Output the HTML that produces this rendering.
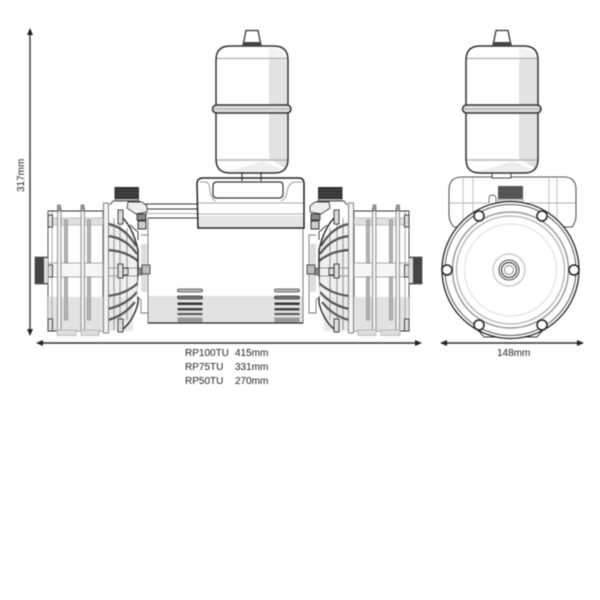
<!DOCTYPE html>
<html>
<head>
<meta charset="utf-8">
<style>
html,body{margin:0;padding:0;background:#fff;width:600px;height:600px;overflow:hidden}
svg{display:block;filter:blur(.4px)}
text{font-family:"Liberation Sans",sans-serif;font-size:10px;fill:#222}
</style>
</head>
<body>
<svg width="600" height="600" viewBox="0 0 600 600" xmlns="http://www.w3.org/2000/svg">
<defs>
<g id="tank">
  <path d="M216 60Q216 46 230 46H274Q288 46 288 60V159Q288 173 274 173H230Q216 173 216 159Z" fill="#fff"/>
  <path d="M269 60H288V159Q288 165 284 168L269 158Z" fill="#e2e2e2"/>
  <path d="M269 48Q282 48 288 60H269Z" fill="#f2f2f2"/>
  <path d="M222 171Q240 170 262 161L280 168Q278 173 270 173H232Z" fill="#eeeeee"/>
  <path d="M216 58.500H288M216 160H288" stroke="#aaa" stroke-width="1.200" fill="none"/>
  <path d="M216 60Q216 46 230 46H274Q288 46 288 60V159Q288 173 274 173H230Q216 173 216 159Z" fill="none" stroke="#333" stroke-width="1.500"/>
  <rect x="212.500" y="105" width="78.500" height="8" rx="4" fill="#ddd" stroke="#333" stroke-width="1.500"/>
  <path d="M214 109H290" stroke="#aaa" stroke-width="1"/>
  <path d="M246 30.500H258L260.500 43H243.500Z" fill="#fff" stroke="#333" stroke-width="1.300"/>
  <path d="M243 42H261L262 46H242Z" fill="#444"/>
</g>
<g id="pump">
  <rect x="48" y="211" width="55" height="120" fill="#fff" stroke="#555" stroke-width="1"/>
  <rect x="48" y="297" width="55" height="34" fill="#e2e2e2"/>
  <rect x="48" y="218" width="55" height="7" fill="#e0e0e0" stroke="#aaa" stroke-width=".7"/>
  <rect x="48" y="263" width="55" height="14" fill="#f6f6f6" stroke="#999" stroke-width=".8"/>
  <path d="M52 211V331" stroke="#aaa" stroke-width="1" fill="none"/>
  <path d="M48 211H103M48 331H58" stroke="#333" stroke-width="1" fill="none"/>
  <g fill="#b8b8b8" stroke="#777" stroke-width=".6">
    <rect x="64.500" y="220" width="3" height="43"/>
    <rect x="64.500" y="277" width="3" height="43"/>
    <rect x="87.500" y="220" width="3" height="43"/>
    <rect x="87.500" y="277" width="3" height="43"/>
  </g>
  <g fill="#f2f2f2" stroke="#777" stroke-width=".8">
    <rect x="57.500" y="208" width="3.500" height="122"/>
    <rect x="81" y="208" width="3.500" height="122"/>
    <rect x="57.500" y="205" width="3" height="6" fill="#999"/>
    <rect x="81" y="205" width="3" height="6" fill="#999"/>
  </g>
  <rect x="57" y="330" width="19" height="5.500" fill="#ddd" stroke="#aaa" stroke-width=".7"/>
  <rect x="81" y="330" width="18" height="5.500" fill="#ddd" stroke="#aaa" stroke-width=".7"/>
  <g fill="#ddd" stroke="#333" stroke-width=".9">
    <rect x="48" y="215" width="4.500" height="12"/>
    <rect x="48" y="265" width="4.500" height="12"/>
    <rect x="48" y="319" width="4.500" height="12"/>
  </g>
  <rect x="35" y="257" width="13" height="27" fill="#444" stroke="#555" stroke-width=".8"/>
  <rect x="44" y="258" width="4" height="25" fill="#ddd"/>
  <!-- volute -->
  <path d="M108 205L112 201H131L140 205V230L138 250V303Q136 322 121 333L108 333Z" fill="#fff"/>
  <path d="M108 221Q126 226 138 250V290Q130 315 108 323Z" fill="#f0f0f0"/>
  <rect x="108" y="297" width="25" height="34" fill="#e8e8e8"/>
  <g fill="none" stroke="#999" stroke-width="1.100">
    <path d="M114 218V330M120 222V328M127 228V320"/>
    <path d="M108 268H138M108 276H138"/>
  </g>
  <g fill="none" stroke="#555" stroke-width="2.200">
    <path d="M108 224Q125 227 136 246"/>
    <path d="M108 236Q126 238 137 254"/>
    <path d="M108 250Q126 251 138 261"/>
    <path d="M108 296Q126 294 138 283"/>
    <path d="M108 309Q126 305 137 292"/>
    <path d="M108 320Q124 316 135 302"/>
  </g>
  <path d="M122 217Q133 228 138 250V303Q133 323 119 332" fill="none" stroke="#222" stroke-width="1.400"/>
  <g fill="#ddd" stroke="#333" stroke-width=".9">
    <rect x="118" y="210" width="5" height="14"/>
    <rect x="118" y="264" width="5" height="14"/>
    <rect x="118" y="319" width="5" height="13"/>
    <path d="M123 268H128V275H123Z"/>
  </g>
  <rect x="103.500" y="203" width="5" height="130" fill="#f4f4f4" stroke="#777" stroke-width=".9"/>
  <rect x="114.500" y="187" width="24.500" height="13" fill="#333"/>
  <path d="M115 190H138M115 193H138M115 196H138" stroke="#666" stroke-width=".6"/>
  <rect x="115" y="199" width="23" height="2.500" fill="#bbb"/>
  <path d="M110 205L113 201H140" fill="none" stroke="#444" stroke-width="1"/>
  <path d="M128 202H142L147 206V212L136 214L127 208Z" fill="#eee" stroke="#444" stroke-width=".9"/>
  <rect x="137" y="214" width="9" height="6" fill="#888" stroke="#222" stroke-width=".8"/>
  <rect x="138" y="221" width="8" height="8" fill="#ccc" stroke="#222" stroke-width=".9"/>
  <path d="M130 225L138 232V240" fill="none" stroke="#444" stroke-width="1"/>
  <path d="M141 235H148V313H141V300L137 296" fill="#fff" stroke="#777" stroke-width=".9"/>
  <rect x="141" y="244" width="6" height="48" fill="#ddd"/>
  <rect x="142" y="265" width="8" height="9" fill="#bbb" stroke="#444" stroke-width=".9"/>
  <path d="M138 268H142V275H138Z" fill="#888" stroke="#333" stroke-width=".6"/>
</g>
<g id="vents">
  <rect x="177.500" y="289" width="25" height="3" rx="1.500" fill="#bbb" stroke="#444" stroke-width=".8"/>
  <rect x="177.500" y="296" width="25" height="3" rx="1.500" fill="#777" stroke="#333" stroke-width=".8"/>
  <rect x="177.500" y="302.500" width="25" height="2.500" fill="#333"/>
  <rect x="177.500" y="308" width="25" height="2.500" fill="#444"/>
  <rect x="177.500" y="313" width="25" height="2" fill="#555"/>
  <rect x="177.500" y="317.500" width="25" height="5" fill="#999"/>
</g>
</defs>

<rect x="148" y="218" width="155" height="105" fill="#fff"/>
<rect x="148" y="296" width="155" height="27" fill="#e2e2e2"/>
<path d="M148 218V323H303V228" fill="none" stroke="#777" stroke-width="1"/>
<path d="M148 323H303" stroke="#222" stroke-width="1.300"/>
<use href="#vents"/>
<use href="#vents" x="97"/>
<path d="M148 218H198" stroke="#333" stroke-width="1"/>

<rect x="146" y="204" width="52" height="5" fill="#fff" stroke="#333" stroke-width="1"/>
<rect x="146" y="213" width="52" height="1" fill="#aaa"/>

<use href="#pump"/>
<use href="#pump" transform="matrix(-1 0 0 1 457 0)"/>

<use href="#tank"/>

<path d="M197 184Q197 178 203 178H299Q304 178 304 184V228H198Z" fill="#fff"/>
<rect x="198" y="216" width="106" height="12" fill="#e6e6e6"/>
<path d="M198 214H304" stroke="#aaa" stroke-width="1"/>
<path d="M198 203H304" stroke="#aaa" stroke-width="1"/>
<path d="M197 184Q197 178 203 178H299Q304 178 304 184V228H198Z" fill="none" stroke="#222" stroke-width="1.500"/>
<path d="M213 186Q213 182 217 182H280Q283 182 283 186V194Q283 198 279 198H217Q213 198 213 194Z" fill="#fff" stroke="#333" stroke-width="1.200"/>
<path d="M200 182H206Q209 182 210 190Q211 199 216 201M302 182H294Q288 184 287 192Q286 199 281 201" fill="none" stroke="#999" stroke-width="1"/>
<path d="M242 172V181M261 172V181" stroke="#333" stroke-width="1.100"/>

<path d="M449 190Q449 177 462 177H564Q576 177 576 190V215Q576 222 572 227H454Q449 222 449 215Z" fill="#fff" stroke="#555" stroke-width="1.100"/>
<path d="M449 203H576" stroke="#999" stroke-width=".8"/>
<path d="M463 178V225M473 178V225M549 178V225M557 178V225" stroke="#bbb" stroke-width=".9"/>
<rect x="492" y="172" width="19" height="6" fill="#fff" stroke="#333" stroke-width=".9"/>
<use href="#tank" x="250"/>
<rect x="498" y="186" width="25" height="13" fill="#555"/>
<rect x="498" y="199" width="25" height="6" fill="#ddd" stroke="#888" stroke-width=".6"/>
<path d="M489 203V199Q489 195 492 195Q496 195 496 199V204" fill="#fff" stroke="#666" stroke-width=".9"/>

<path d="M478 330L484 337H537L543 330Z" fill="#fff" stroke="#333" stroke-width="1"/>
<circle cx="510.500" cy="270" r="68.500" fill="#fff" stroke="#222" stroke-width="1.300"/>
<circle cx="510.500" cy="270" r="65.500" fill="none" stroke="#555" stroke-width="1"/>
<circle cx="510.500" cy="270" r="58" fill="none" stroke="#999" stroke-width="1.500"/>
<circle cx="510.500" cy="270" r="54" fill="none" stroke="#bbb" stroke-width="1.500"/>
<circle cx="510.500" cy="270" r="46" fill="none" stroke="#ddd" stroke-width="1"/>
<circle cx="509" cy="270" r="16" fill="#fff" stroke="#ccc" stroke-width="1.500"/>
<circle cx="509" cy="270" r="10" fill="#fff" stroke="#666" stroke-width="1.300"/>
<circle cx="509" cy="270" r="7.500" fill="#fff" stroke="#444" stroke-width="1.200"/>
<circle cx="509" cy="270" r="4.500" fill="#fff" stroke="#888" stroke-width="1"/>
<g fill="#fff" stroke="#222" stroke-width="1.500">
  <circle cx="479" cy="216" r="5"/>
  <circle cx="542" cy="216" r="5"/>
  <circle cx="447" cy="270" r="5"/>
  <circle cx="574" cy="270" r="5"/>
  <circle cx="479" cy="325" r="5"/>
  <circle cx="542" cy="325" r="5"/>
</g>

<g stroke="#333" stroke-width="1.400" fill="none">
  <path d="M30 33V332"/>
  <path d="M39 343H418"/>
  <path d="M444 343H580"/>
</g>
<g fill="#222">
  <path d="M30 28L27 35H33Z"/>
  <path d="M30 336L27 329H33Z"/>
  <path d="M36 343L43 340V346Z"/>
  <path d="M422 343L415 340V346Z"/>
  <path d="M440 343L447 340V346Z"/>
  <path d="M584 343L577 340V346Z"/>
</g>

<text transform="translate(24 192) rotate(-90)">317mm</text>
<text x="185" y="356">RP100TU</text><text x="235" y="356">415mm</text>
<text x="185" y="370">RP75TU</text><text x="235" y="370">331mm</text>
<text x="185" y="384">RP50TU</text><text x="235" y="384">270mm</text>
<text x="497" y="356">148mm</text>
</svg>
</body>
</html>
